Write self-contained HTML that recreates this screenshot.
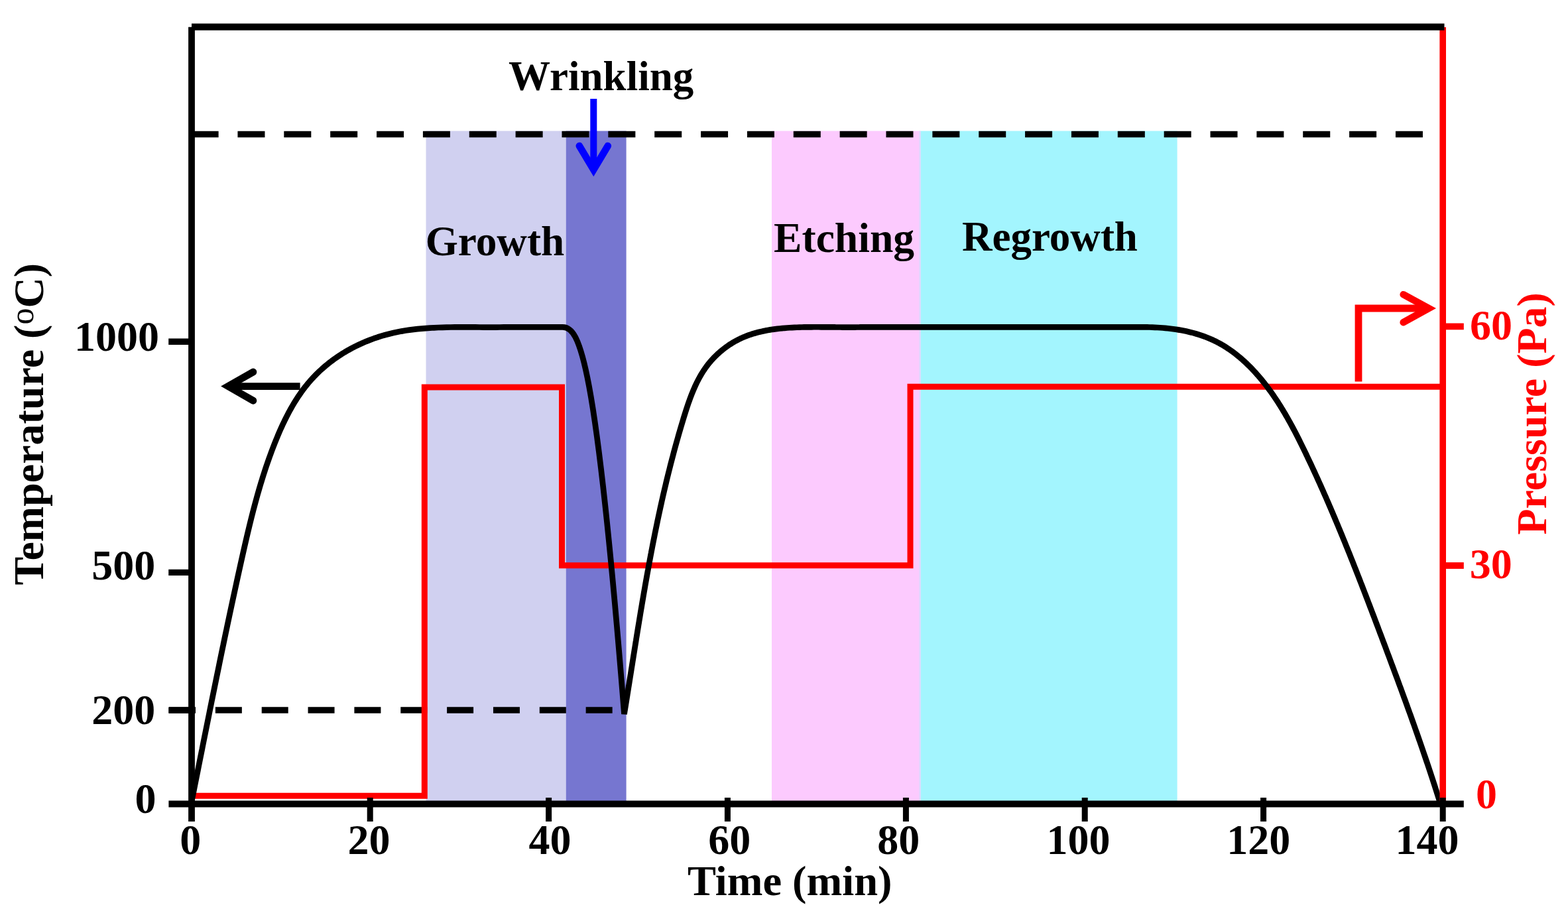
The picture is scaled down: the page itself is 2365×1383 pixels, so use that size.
<!DOCTYPE html>
<html><head><meta charset="utf-8"><style>html,body{margin:0;padding:0;background:#fff;overflow:hidden}svg{display:block}</style></head><body>
<svg width="2365" height="1383" viewBox="0 0 2365 1383">
<rect width="100%" height="100%" fill="#fff"/>
<rect x="642.5" y="197.5" width="212.2" height="1015" fill="#d0d0f0"/>
<rect x="853.8" y="197.5" width="90.8" height="1015" fill="#7676d0"/>
<rect x="1164" y="197.5" width="224.5" height="1015" fill="#fccafe"/>
<rect x="1388.5" y="197.5" width="387.1" height="1015" fill="#a3f5fe"/>
<rect x="1386.2" y="197.5" width="2.4" height="1015" fill="#dfd7fe"/>
<line x1="288.6" y1="202.5" x2="2178" y2="202.5" stroke="#000" stroke-width="9.6" stroke-dasharray="41 28.86"/>
<line x1="255" y1="1071" x2="940" y2="1071" stroke="#000" stroke-width="9.6" stroke-dasharray="40 29.85"/>
<path d="M287.5,1200.3 H640.3 V584 H847.5 V852.8 H1373 V583.2 H2176" fill="none" stroke="#f00" stroke-width="9" stroke-linejoin="miter"/>
<path d="M289.00,1209.00 L290.21,1202.93 L291.42,1196.87 L292.63,1190.81 L293.84,1184.75 L295.04,1178.69 L296.25,1172.63 L297.46,1166.58 L298.66,1160.53 L299.87,1154.48 L301.08,1148.43 L302.28,1142.39 L303.49,1136.34 L304.70,1130.30 L305.90,1124.26 L307.11,1118.22 L308.32,1112.18 L309.53,1106.15 L310.74,1100.12 L311.95,1094.08 L313.16,1088.05 L314.37,1082.02 L315.59,1076.00 L316.80,1069.97 L318.02,1063.95 L319.24,1057.92 L320.46,1051.90 L321.68,1045.88 L322.91,1039.86 L324.13,1033.84 L325.36,1027.82 L326.59,1021.80 L327.82,1015.79 L329.06,1009.77 L330.29,1003.76 L331.53,997.74 L332.77,991.73 L334.02,985.72 L335.26,979.71 L336.52,973.69 L337.77,967.68 L339.02,961.67 L340.28,955.66 L341.55,949.65 L342.81,943.64 L344.08,937.64 L345.36,931.63 L346.63,925.62 L347.91,919.61 L349.20,913.60 L350.49,907.59 L351.78,901.59 L353.08,895.58 L354.38,889.57 L355.69,883.56 L357.00,877.55 L358.31,871.54 L359.63,865.53 L360.96,859.53 L362.29,853.52 L363.62,847.50 L364.96,841.49 L366.31,835.48 L367.66,829.47 L369.03,823.46 L370.41,817.46 L371.80,811.45 L373.21,805.45 L374.64,799.45 L376.09,793.45 L377.55,787.46 L379.04,781.47 L380.56,775.49 L382.10,769.51 L383.67,763.53 L385.27,757.57 L386.91,751.61 L388.57,745.66 L390.27,739.71 L392.01,733.77 L393.79,727.85 L395.61,721.93 L397.47,716.02 L399.37,710.12 L401.33,704.23 L403.32,698.35 L405.37,692.49 L407.47,686.63 L409.62,680.79 L411.83,674.96 L414.10,669.15 L416.42,663.35 L418.81,657.57 L421.26,651.82 L423.78,646.10 L426.38,640.42 L429.06,634.79 L431.83,629.21 L434.68,623.69 L437.62,618.24 L440.66,612.85 L443.80,607.55 L447.05,602.33 L450.40,597.20 L453.87,592.17 L457.45,587.25 L461.16,582.43 L464.99,577.73 L468.96,573.15 L473.04,568.70 L477.25,564.37 L481.58,560.17 L486.02,556.09 L490.58,552.14 L495.24,548.31 L500.01,544.62 L504.88,541.05 L509.84,537.61 L514.89,534.30 L520.04,531.13 L525.27,528.08 L530.58,525.16 L535.97,522.38 L541.44,519.73 L546.97,517.22 L552.58,514.84 L558.24,512.60 L563.97,510.49 L569.75,508.52 L575.58,506.69 L581.46,504.99 L587.39,503.44 L593.36,502.02 L599.36,500.74 L605.40,499.59 L611.48,498.57 L617.58,497.66 L623.71,496.86 L629.86,496.16 L636.04,495.56 L642.23,495.05 L648.44,494.63 L654.67,494.28 L660.90,493.99 L667.15,493.78 L673.39,493.61 L679.65,493.50 L685.90,493.43 L692.15,493.40 L698.39,493.40 L704.62,493.40 L710.85,493.43 L717.06,493.46 L723.25,493.51 L729.43,493.54 L735.58,493.56 L741.71,493.57 L747.82,493.55 L753.89,493.50 L759.93,493.41 L848.72,493.40 C874.13,493.40 898.43,536.60 941.50,1077.00 L942.09,1073.40 L942.67,1069.79 L943.26,1066.19 L943.84,1062.59 L944.42,1058.99 L945.00,1055.39 L945.58,1051.79 L946.16,1048.19 L946.73,1044.59 L947.31,1041.00 L947.88,1037.40 L948.46,1033.81 L949.03,1030.21 L949.60,1026.62 L950.17,1023.03 L950.74,1019.44 L951.32,1015.85 L951.89,1012.26 L952.46,1008.67 L953.03,1005.09 L953.60,1001.50 L954.17,997.92 L954.74,994.33 L955.31,990.75 L955.88,987.17 L956.46,983.58 L957.03,980.00 L957.60,976.42 L958.18,972.84 L958.75,969.27 L959.33,965.69 L959.90,962.11 L960.48,958.54 L961.06,954.96 L961.64,951.39 L962.22,947.81 L962.81,944.24 L963.39,940.67 L963.98,937.10 L964.57,933.53 L965.16,929.96 L965.75,926.39 L966.34,922.82 L966.94,919.25 L967.54,915.69 L968.14,912.12 L968.74,908.56 L969.35,904.99 L969.96,901.43 L970.57,897.87 L971.18,894.31 L971.80,890.74 L972.42,887.18 L973.04,883.62 L973.66,880.07 L974.29,876.51 L974.92,872.95 L975.56,869.39 L976.20,865.84 L976.84,862.28 L977.49,858.73 L978.14,855.17 L978.79,851.62 L979.45,848.07 L980.11,844.51 L980.77,840.96 L981.44,837.41 L982.12,833.86 L982.79,830.31 L983.48,826.76 L984.16,823.21 L984.86,819.67 L985.55,816.12 L986.25,812.57 L986.96,809.03 L987.67,805.48 L988.39,801.94 L989.11,798.39 L989.84,794.85 L990.57,791.31 L991.31,787.76 L992.05,784.22 L992.80,780.68 L993.55,777.14 L994.31,773.60 L995.08,770.06 L995.85,766.52 L996.63,762.98 L997.41,759.45 L998.20,755.91 L999.00,752.37 L999.80,748.84 L1000.61,745.30 L1001.43,741.77 L1002.25,738.23 L1003.08,734.70 L1003.92,731.16 L1004.76,727.63 L1005.61,724.10 L1006.47,720.57 L1007.34,717.03 L1008.21,713.50 L1009.09,709.97 L1009.98,706.44 L1010.87,702.91 L1011.77,699.38 L1012.68,695.85 L1013.60,692.32 L1014.53,688.80 L1015.46,685.27 L1016.40,681.74 L1017.36,678.21 L1018.31,674.69 L1019.28,671.16 L1020.26,667.64 L1021.24,664.11 L1022.24,660.59 L1023.24,657.06 L1024.25,653.54 L1025.27,650.01 L1026.30,646.49 L1027.33,642.97 L1028.38,639.45 L1029.44,635.92 L1030.50,632.40 L1031.58,628.88 L1032.67,625.36 L1033.77,621.85 L1034.89,618.34 L1036.03,614.84 L1037.19,611.36 L1038.38,607.88 L1039.60,604.43 L1040.85,600.99 L1042.13,597.57 L1043.46,594.18 L1044.82,590.81 L1046.22,587.46 L1047.67,584.15 L1049.16,580.87 L1050.71,577.63 L1052.31,574.42 L1053.97,571.25 L1055.69,568.12 L1057.47,565.03 L1059.32,561.99 L1061.23,559.00 L1063.21,556.06 L1065.27,553.17 L1067.40,550.33 L1069.61,547.56 L1071.89,544.84 L1074.25,542.18 L1076.67,539.58 L1079.16,537.05 L1081.72,534.58 L1084.35,532.18 L1087.03,529.84 L1089.78,527.58 L1092.59,525.38 L1095.45,523.26 L1098.37,521.21 L1101.34,519.24 L1104.36,517.35 L1107.43,515.53 L1110.54,513.80 L1113.71,512.15 L1116.91,510.58 L1120.16,509.10 L1123.44,507.71 L1126.76,506.40 L1130.12,505.17 L1133.51,504.02 L1136.94,502.95 L1140.39,501.95 L1143.87,501.03 L1147.38,500.17 L1150.92,499.38 L1154.47,498.65 L1158.05,497.99 L1161.64,497.38 L1165.25,496.82 L1168.88,496.32 L1172.52,495.87 L1176.17,495.47 L1179.84,495.11 L1183.51,494.79 L1187.18,494.51 L1190.86,494.27 L1194.54,494.06 L1198.22,493.88 L1201.90,493.73 L1205.58,493.61 L1209.25,493.51 L1212.92,493.42 L1216.58,493.36 L1220.23,493.31 L1223.88,493.28 L1227.52,493.26 L1231.15,493.26 L1234.78,493.26 L1238.41,493.28 L1242.03,493.30 L1245.65,493.32 L1249.27,493.35 L1252.89,493.39 L1256.50,493.42 L1260.12,493.46 L1263.73,493.49 L1267.35,493.52 L1270.97,493.54 L1274.58,493.56 L1278.20,493.57 L1281.82,493.57 L1285.45,493.55 L1289.08,493.53 L1292.71,493.49 L1296.35,493.43 L1299.99,493.36 L1600.00,493.40 L1603.95,493.40 L1607.89,493.40 L1611.84,493.40 L1615.78,493.41 L1619.73,493.41 L1623.67,493.42 L1627.61,493.42 L1631.55,493.42 L1635.49,493.43 L1639.43,493.43 L1643.37,493.43 L1647.31,493.43 L1651.25,493.43 L1655.19,493.43 L1659.13,493.43 L1663.07,493.43 L1667.01,493.43 L1670.94,493.42 L1674.88,493.42 L1678.82,493.41 L1682.76,493.40 L1686.70,493.40 L1690.64,493.40 L1694.59,493.40 L1698.53,493.40 L1702.47,493.40 L1706.42,493.40 L1710.36,493.40 L1714.31,493.40 L1718.26,493.40 L1722.21,493.40 L1726.15,493.40 L1730.10,493.43 L1734.05,493.52 L1738.00,493.64 L1741.95,493.80 L1745.89,494.00 L1749.84,494.24 L1753.79,494.53 L1757.74,494.87 L1761.68,495.26 L1765.62,495.70 L1769.56,496.20 L1773.48,496.76 L1777.40,497.38 L1781.30,498.06 L1785.19,498.80 L1789.06,499.60 L1792.91,500.47 L1796.74,501.40 L1800.55,502.40 L1804.33,503.47 L1808.08,504.62 L1811.81,505.83 L1815.50,507.12 L1819.16,508.49 L1822.78,509.93 L1826.37,511.45 L1829.91,513.06 L1833.42,514.74 L1836.87,516.51 L1840.29,518.36 L1843.66,520.29 L1846.99,522.29 L1850.27,524.37 L1853.52,526.52 L1856.72,528.74 L1859.87,531.03 L1862.99,533.38 L1866.06,535.80 L1869.10,538.28 L1872.09,540.82 L1875.04,543.42 L1877.95,546.08 L1880.82,548.78 L1883.65,551.54 L1886.44,554.35 L1889.19,557.20 L1891.90,560.10 L1894.57,563.04 L1897.20,566.02 L1899.80,569.04 L1902.35,572.09 L1904.87,575.18 L1907.35,578.30 L1909.79,581.45 L1912.20,584.63 L1914.57,587.83 L1916.90,591.06 L1919.19,594.31 L1921.45,597.58 L1923.68,600.86 L1925.87,604.16 L1928.02,607.48 L1930.14,610.81 L1932.24,614.16 L1934.30,617.52 L1936.33,620.90 L1938.33,624.29 L1940.31,627.69 L1942.27,631.10 L1944.19,634.53 L1946.10,637.97 L1947.98,641.42 L1949.84,644.88 L1951.68,648.35 L1953.51,651.83 L1955.31,655.31 L1957.10,658.81 L1958.87,662.31 L1960.63,665.82 L1962.38,669.34 L1964.11,672.86 L1965.84,676.39 L1967.55,679.92 L1969.25,683.46 L1970.95,687.00 L1972.64,690.55 L1974.32,694.10 L1976.00,697.65 L1977.67,701.21 L1979.33,704.77 L1980.99,708.33 L1982.63,711.90 L1984.27,715.47 L1985.91,719.05 L1987.54,722.63 L1989.16,726.21 L1990.77,729.79 L1992.38,733.38 L1993.99,736.97 L1995.58,740.57 L1997.17,744.17 L1998.76,747.77 L2000.34,751.37 L2001.91,754.98 L2003.48,758.59 L2005.04,762.20 L2006.60,765.82 L2008.15,769.44 L2009.69,773.06 L2011.23,776.68 L2012.77,780.31 L2014.30,783.94 L2015.83,787.57 L2017.35,791.20 L2018.86,794.84 L2020.37,798.48 L2021.88,802.12 L2023.38,805.76 L2024.88,809.40 L2026.37,813.05 L2027.86,816.70 L2029.35,820.35 L2030.83,824.01 L2032.30,827.66 L2033.78,831.32 L2035.25,834.98 L2036.71,838.64 L2038.17,842.30 L2039.63,845.96 L2041.09,849.63 L2042.54,853.30 L2043.98,856.97 L2045.43,860.64 L2046.87,864.31 L2048.31,867.98 L2049.75,871.65 L2051.18,875.33 L2052.61,879.01 L2054.04,882.68 L2055.46,886.36 L2056.88,890.04 L2058.30,893.72 L2059.72,897.41 L2061.14,901.09 L2062.55,904.77 L2063.96,908.46 L2065.37,912.14 L2066.78,915.83 L2068.18,919.51 L2069.59,923.20 L2070.99,926.89 L2072.39,930.57 L2073.79,934.26 L2075.19,937.95 L2076.58,941.64 L2077.98,945.33 L2079.37,949.02 L2080.77,952.71 L2082.16,956.40 L2083.55,960.08 L2084.94,963.77 L2086.33,967.46 L2087.72,971.15 L2089.11,974.84 L2090.50,978.53 L2091.88,982.22 L2093.27,985.91 L2094.65,989.60 L2096.03,993.29 L2097.41,996.98 L2098.79,1000.67 L2100.17,1004.36 L2101.55,1008.06 L2102.92,1011.75 L2104.30,1015.44 L2105.67,1019.13 L2107.04,1022.83 L2108.41,1026.52 L2109.77,1030.22 L2111.13,1033.91 L2112.50,1037.61 L2113.85,1041.30 L2115.21,1045.00 L2116.57,1048.70 L2117.92,1052.40 L2119.27,1056.10 L2120.61,1059.80 L2121.96,1063.50 L2123.30,1067.21 L2124.64,1070.91 L2125.97,1074.61 L2127.31,1078.32 L2128.64,1082.03 L2129.96,1085.74 L2131.29,1089.45 L2132.61,1093.16 L2133.92,1096.87 L2135.23,1100.58 L2136.54,1104.30 L2137.85,1108.01 L2139.15,1111.73 L2140.45,1115.45 L2141.75,1119.17 L2143.04,1122.89 L2144.33,1126.61 L2145.61,1130.34 L2146.89,1134.07 L2148.16,1137.79 L2149.43,1141.52 L2150.70,1145.26 L2151.96,1148.99 L2153.22,1152.73 L2154.47,1156.46 L2155.72,1160.20 L2156.96,1163.94 L2158.20,1167.69 L2159.44,1171.43 L2160.67,1175.18 L2161.89,1178.93 L2163.11,1182.68 L2164.33,1186.43 L2165.53,1190.19 L2166.74,1193.95 L2167.94,1197.71 L2169.13,1201.47 L2170.32,1205.23 L2171.50,1209.00" fill="none" stroke="#000" stroke-width="8.7" stroke-linejoin="bevel"/>
<line x1="289" y1="40.7" x2="289" y2="1239" stroke="#000" stroke-width="9.8"/>
<line x1="2176.2" y1="41" x2="2176.2" y2="1212" stroke="#f00" stroke-width="9.6"/>
<line x1="289" y1="40.7" x2="2178.5" y2="40.7" stroke="#000" stroke-width="10.2"/>
<line x1="254.4" y1="1212.5" x2="2207.8" y2="1212.5" stroke="#000" stroke-width="9.8"/>
<line x1="254.2" y1="515.2" x2="289" y2="515.2" stroke="#000" stroke-width="9.4"/>
<line x1="254.2" y1="863.4" x2="289" y2="863.4" stroke="#000" stroke-width="9.4"/>
<line x1="254.2" y1="1071.1" x2="289" y2="1071.1" stroke="#000" stroke-width="9.4"/>
<line x1="558.2" y1="1203" x2="558.2" y2="1239" stroke="#000" stroke-width="9"/>
<line x1="827.6" y1="1203" x2="827.6" y2="1239" stroke="#000" stroke-width="9"/>
<line x1="1097.4" y1="1203" x2="1097.4" y2="1239" stroke="#000" stroke-width="9"/>
<line x1="1366.4" y1="1203" x2="1366.4" y2="1239" stroke="#000" stroke-width="9"/>
<line x1="1636.2" y1="1203" x2="1636.2" y2="1239" stroke="#000" stroke-width="9"/>
<line x1="1905.6" y1="1203" x2="1905.6" y2="1239" stroke="#000" stroke-width="9"/>
<line x1="2176.2" y1="1203" x2="2176.2" y2="1239" stroke="#000" stroke-width="9"/>
<line x1="2176" y1="492.4" x2="2207.8" y2="492.4" stroke="#f00" stroke-width="9.8"/>
<line x1="2176" y1="853" x2="2207.8" y2="853" stroke="#f00" stroke-width="9.8"/>
<line x1="346" y1="582.6" x2="452.6" y2="582.6" stroke="#000" stroke-width="10.8"/>
<path d="M381.9,561 L344,582.6 L381.9,604.3" fill="none" stroke="#000" stroke-width="10.8" stroke-linecap="round" stroke-linejoin="miter" stroke-miterlimit="10"/>
<line x1="895.3" y1="149" x2="895.3" y2="254" stroke="#00f" stroke-width="10"/>
<path d="M873.8,220 L895.3,256 L916.8,220" fill="none" stroke="#00f" stroke-width="10.6" stroke-linecap="round" stroke-linejoin="miter" stroke-miterlimit="10"/>
<path d="M2049,575.5 V465 H2153" fill="none" stroke="#f00" stroke-width="10.8" stroke-linejoin="miter"/>
<path d="M2116.7,444.2 L2155,465 L2116.7,486.2" fill="none" stroke="#f00" stroke-width="10.6" stroke-linecap="round" stroke-linejoin="miter" stroke-miterlimit="10"/>
<text x="767.11" y="136.10" font-family="'Liberation Serif','Times New Roman',serif" font-weight="bold" font-size="63.07" fill="#000" text-anchor="start">Wrinkling</text>
<text x="641.63" y="384.50" font-family="'Liberation Serif','Times New Roman',serif" font-weight="bold" font-size="63.22" fill="#000" text-anchor="start">Growth</text>
<text x="1167.01" y="379.66" font-family="'Liberation Serif','Times New Roman',serif" font-weight="bold" font-size="63.64" fill="#000" text-anchor="start">Etching</text>
<text x="1451.01" y="377.70" font-family="'Liberation Serif','Times New Roman',serif" font-weight="bold" font-size="63.04" fill="#000" text-anchor="start">Regrowth</text>
<text x="1036.99" y="1349.60" font-family="'Liberation Serif','Times New Roman',serif" font-weight="bold" font-size="64.45" fill="#000" text-anchor="start">Time (min)</text>
<text x="240.00" y="528.75" font-family="'Liberation Serif','Times New Roman',serif" font-weight="bold" font-size="64.00" fill="#000" text-anchor="end">1000</text>
<text x="234.30" y="873.55" font-family="'Liberation Serif','Times New Roman',serif" font-weight="bold" font-size="64.00" fill="#000" text-anchor="end">500</text>
<text x="234.30" y="1091.75" font-family="'Liberation Serif','Times New Roman',serif" font-weight="bold" font-size="64.00" fill="#000" text-anchor="end">200</text>
<text x="235.50" y="1225.90" font-family="'Liberation Serif','Times New Roman',serif" font-weight="bold" font-size="64.00" fill="#000" text-anchor="end">0</text>
<text x="287.20" y="1287.80" font-family="'Liberation Serif','Times New Roman',serif" font-weight="bold" font-size="64.00" fill="#000" text-anchor="middle">0</text>
<text x="556.50" y="1287.80" font-family="'Liberation Serif','Times New Roman',serif" font-weight="bold" font-size="64.00" fill="#000" text-anchor="middle">20</text>
<text x="829.60" y="1287.80" font-family="'Liberation Serif','Times New Roman',serif" font-weight="bold" font-size="64.00" fill="#000" text-anchor="middle">40</text>
<text x="1100.20" y="1287.80" font-family="'Liberation Serif','Times New Roman',serif" font-weight="bold" font-size="64.00" fill="#000" text-anchor="middle">60</text>
<text x="1355.30" y="1287.80" font-family="'Liberation Serif','Times New Roman',serif" font-weight="bold" font-size="64.00" fill="#000" text-anchor="middle">80</text>
<text x="1626.60" y="1287.80" font-family="'Liberation Serif','Times New Roman',serif" font-weight="bold" font-size="64.00" fill="#000" text-anchor="middle">100</text>
<text x="1898.30" y="1287.80" font-family="'Liberation Serif','Times New Roman',serif" font-weight="bold" font-size="64.00" fill="#000" text-anchor="middle">120</text>
<text x="2152.60" y="1287.80" font-family="'Liberation Serif','Times New Roman',serif" font-weight="bold" font-size="64.00" fill="#000" text-anchor="middle">140</text>
<text x="2216.90" y="512.05" font-family="'Liberation Serif','Times New Roman',serif" font-weight="bold" font-size="64.00" fill="#f00" text-anchor="start">60</text>
<text x="2216.75" y="872.20" font-family="'Liberation Serif','Times New Roman',serif" font-weight="bold" font-size="64.00" fill="#f00" text-anchor="start">30</text>
<text x="2226.05" y="1219.20" font-family="'Liberation Serif','Times New Roman',serif" font-weight="bold" font-size="64.00" fill="#f00" text-anchor="start">0</text>
<text transform="translate(64.5,882.4) rotate(-90)" font-family="'Liberation Serif','Times New Roman',serif" font-weight="bold" font-size="64">Temperature (<tspan font-size="50" font-weight="normal" dy="-15">o</tspan><tspan dy="15">C)</tspan></text>
<text transform="translate(2332.3,806.6) rotate(-90)" font-family="'Liberation Serif','Times New Roman',serif" font-weight="bold" font-size="64" fill="#f00">Pressure (Pa)</text>
</svg>
</body></html>
